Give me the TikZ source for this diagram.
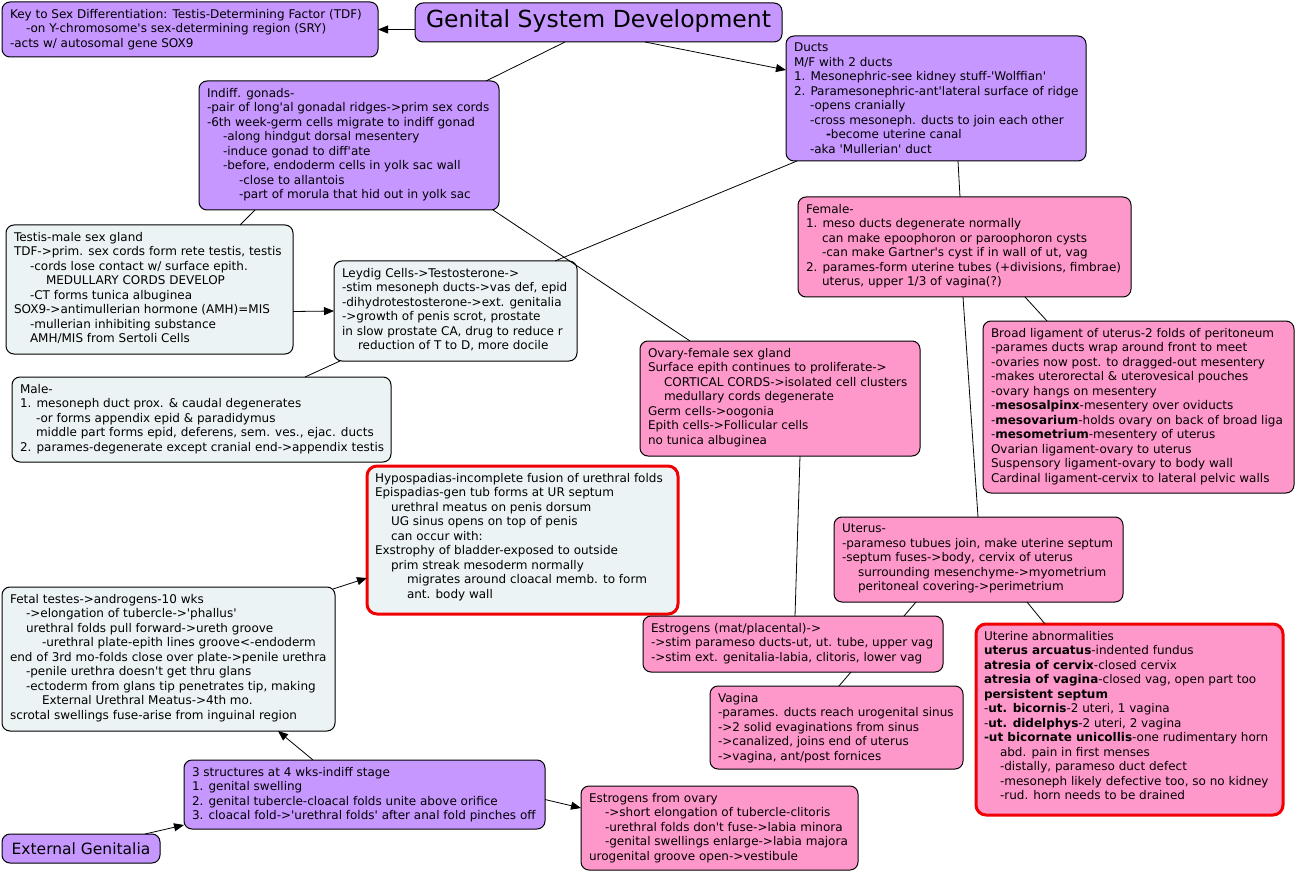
\documentclass[tikz,border=0pt]{standalone}
\usepackage{fontspec}
\newfontfamily\vf{DejaVu Sans}
\usetikzlibrary{arrows.meta}
\definecolor{cpur}{RGB}{198,151,255}
\definecolor{cpink}{RGB}{255,152,202}
\definecolor{cgrey}{RGB}{236,243,245}
\definecolor{cred}{RGB}{240,0,0}
\tikzset{
 boxbase/.style={draw=black, line width=1pt, rounded corners=8pt, inner sep=0pt, outer sep=0pt},
 pur/.style={boxbase, fill=cpur},
 pnk/.style={boxbase, fill=cpink},
 gry/.style={boxbase, fill=cgrey},
 redg/.style={boxbase, fill=cgrey, draw=cred, line width=3pt, rounded corners=10pt},
 redp/.style={boxbase, fill=cpink, draw=cred, line width=3pt, rounded corners=10pt},
 txt/.style={inner sep=0pt, outer sep=0pt, align=left, font=\vf\fontsize{12}{14.5}\selectfont},
 conn/.style={draw=black, line width=0.8pt},
 arr/.style={conn, -{Triangle[length=10pt,width=8pt]}},
}
\newcommand{\indA}{\hspace*{16pt}}
\newcommand{\indB}{\hspace*{32pt}}
\newcommand{\cbox}[7]{%
 \node[#2, minimum width=#5pt, minimum height=#6pt, anchor=north west] (#1) at (#3pt,-#4pt) {};
 \node[txt, anchor=north west] (#1t) at ([xshift=8pt,yshift=-7pt]#1.north west) {#7};}
\begin{document}
\begin{tikzpicture}
\useasboundingbox (0,0) rectangle (1297pt,-874pt);
% title
\node[pur, minimum width=367pt, minimum height=39pt, anchor=north west] (title) at (415pt,-3pt) {};
\node[txt, font=\vf\fontsize{23.5}{28}\selectfont] (titlet) at ([yshift=1pt]title.center) {Genital System Development};
% external genitalia
\node[pur, minimum width=158pt, minimum height=29pt, anchor=north west] (extgen) at (2pt,-834pt) {};
\node[txt, font=\vf\fontsize{15.5}{18}\selectfont] (extgent) at (extgen.center) {External Genitalia};

\cbox{key}{pur}{2}{2}{376}{55}{Key to Sex Differentiation: Testis-Determining Factor (TDF)\\
\indA-on Y-chromosome's sex-determining region (SRY)\\
-acts w/ autosomal gene SOX9}

\cbox{ducts}{pur}{786}{36}{300}{125}{Ducts\\
M/F with 2 ducts\\
1. Mesonephric-see kidney stuff-'Wolffian'\\
2. Paramesonephric-ant'lateral surface of ridge\\
\indA-opens cranially\\
\indA-cross mesoneph. ducts to join each other\\
\indB\textbf{-}become uterine canal\\
\indA-aka 'Mullerian' duct}

\cbox{indiff}{pur}{199}{81}{300}{129}{Indiff. gonads-\\
-pair of long'al gonadal ridges->prim sex cords\\
-6th week-germ cells migrate to indiff gonad\\
\indA-along hindgut dorsal mesentery\\
\indA-induce gonad to diff'ate\\
\indA-before, endoderm cells in yolk sac wall\\
\indB-close to allantois\\
\indB-part of morula that hid out in yolk sac}

\cbox{testis}{gry}{6}{225}{287}{129}{Testis-male sex gland\\
TDF->prim. sex cords form rete testis, testis\\
\indA-cords lose contact w/ surface epith.\\
\indB MEDULLARY CORDS DEVELOP\\
\indA-CT forms tunica albuginea\\
SOX9->antimullerian hormone (AMH)=MIS\\
\indA-mullerian inhibiting substance\\
\indA AMH/MIS from Sertoli Cells}

\cbox{leydig}{gry}{334}{261}{243}{100}{Leydig Cells->Testosterone->\\
-stim mesoneph ducts->vas def, epid\\
-dihydrotestosterone->ext. genitalia\\
->growth of penis scrot, prostate\\
in slow prostate CA, drug to reduce r\\
\indA reduction of T to D, more docile}

\cbox{male}{gry}{12}{377}{379}{85}{Male-\\
1. mesoneph duct prox. \& caudal degenerates\\
\indA-or forms appendix epid \& paradidymus\\
\indA middle part forms epid, deferens, sem. ves., ejac. ducts\\
2. parames-degenerate except cranial end->appendix testis}

\cbox{female}{pnk}{798}{197}{333}{100}{Female-\\
1. meso ducts degenerate normally\\
\indA can make epoophoron or paroophoron cysts\\
\indA-can make Gartner's cyst if in wall of ut, vag\\
2. parames-form uterine tubes (+divisions, fimbrae)\\
\indA uterus, upper 1/3 of vagina(?)}

\cbox{broad}{pnk}{983}{321}{311}{172}{Broad ligament of uterus-2 folds of peritoneum\\
-parames ducts wrap around front to meet\\
-ovaries now post. to dragged-out mesentery\\
-makes uterorectal \& uterovesical pouches\\
-ovary hangs on mesentery\\
-\textbf{mesosalpinx}-mesentery over oviducts\\
-\textbf{mesovarium}-holds ovary on back of broad liga\\
-\textbf{mesometrium}-mesentery of uterus\\
Ovarian ligament-ovary to uterus\\
Suspensory ligament-ovary to body wall\\
Cardinal ligament-cervix to lateral pelvic walls}

\cbox{ovary}{pnk}{640}{341}{280}{115}{Ovary-female sex gland\\
Surface epith continues to proliferate->\\
\indA CORTICAL CORDS->isolated cell clusters\\
\indA medullary cords degenerate\\
Germ cells->oogonia\\
Epith cells->Follicular cells\\
no tunica albuginea}

\cbox{hypo}{redg}{367}{466}{311}{148}{Hypospadias-incomplete fusion of urethral folds\\
Epispadias-gen tub forms at UR septum\\
\indA urethral meatus on penis dorsum\\
\indA UG sinus opens on top of penis\\
\indA can occur with:\\
Exstrophy of bladder-exposed to outside\\
\indA prim streak mesoderm normally\\
\indB migrates around cloacal memb. to form\\
\indB ant. body wall}

\cbox{uterus}{pnk}{834}{517}{289}{85}{Uterus-\\
-parameso tubues join, make uterine septum\\
-septum fuses->body, cervix of uterus\\
\indA surrounding mesenchyme->myometrium\\
\indA peritoneal covering->perimetrium}

\cbox{estrmat}{pnk}{643}{616}{300}{56}{Estrogens (mat/placental)->\\
->stim parameso ducts-ut, ut. tube, upper vag\\
->stim ext. genitalia-labia, clitoris, lower vag}

\cbox{vagina}{pnk}{710}{686}{253}{83}{Vagina\\
-parames. ducts reach urogenital sinus\\
->2 solid evaginations from sinus\\
->canalized, joins end of uterus\\
->vagina, ant/post fornices}

\cbox{utabn}{redp}{976}{624}{307}{191}{Uterine abnormalities\\
\textbf{uterus arcuatus}-indented fundus\\
\textbf{atresia of cervix}-closed cervix\\
\textbf{atresia of vagina}-closed vag, open part too\\
\textbf{persistent septum}\\
-\textbf{ut. bicornis}-2 uteri, 1 vagina\\
-\textbf{ut. didelphys}-2 uteri, 2 vagina\\
\textbf{-ut bicornate unicollis}-one rudimentary horn\\
\indA abd. pain in first menses\\
\indA-distally, parameso duct defect\\
\indA-mesoneph likely defective too, so no kidney\\
\indA-rud. horn needs to be drained}

\cbox{fetal}{gry}{2}{587}{333}{144}{Fetal testes->androgens-10 wks\\
\indA->elongation of tubercle->'phallus'\\
\indA urethral folds pull forward->ureth groove\\
\indB-urethral plate-epith lines groove<-endoderm\\
end of 3rd mo-folds close over plate->penile urethra\\
\indA-penile urethra doesn't get thru glans\\
\indA-ectoderm from glans tip penetrates tip, making\\
\indB External Urethral Meatus->4th mo.\\
scrotal swellings fuse-arise from inguinal region}

\cbox{three}{pur}{184}{760}{361}{69}{3 structures at 4 wks-indiff stage\\
1. genital swelling\\
2. genital tubercle-cloacal folds unite above orifice\\
3. cloacal fold->'urethral folds' after anal fold pinches off}

\cbox{estrov}{pnk}{581}{786}{277}{84}{Estrogens from ovary\\
\indA->short elongation of tubercle-clitoris\\
\indA-urethral folds don't fuse->labia minora\\
\indA-genital swellings enlarge->labia majora\\
urogenital groove open->vestibule}

% connectors
\draw[arr] ([yshift=-7pt]title.west) -- (key.east);
\draw[arr] ([xshift=230pt]title.south west) -- ([yshift=-34pt]ducts.north west);
\draw[conn] ([xshift=150pt]title.south west) -- ([xshift=287pt]indiff.north west);
\draw[conn] ([xshift=56pt]indiff.south west) -- ([xshift=234pt]testis.north west);
\draw[conn] ([xshift=-6pt]indiff.south east) -- ([xshift=50pt]ovary.north west);
\draw[conn] ([xshift=11pt]ducts.south west) -- ([xshift=-22pt]leydig.north east);
\draw[conn] ([xshift=172pt]ducts.south west) -- ([xshift=162pt]female.north west);
\draw[arr] ([yshift=-22pt]testis.east) -- (leydig.west);
\draw[conn] ([xshift=6pt]leydig.south west) -- ([xshift=293pt]male.north west);
\draw[conn] ([xshift=227pt]female.south west) -- ([xshift=64pt]broad.north west);
\draw[conn] ([xshift=165pt]female.south west) -- ([xshift=144pt]uterus.north west);
\draw[conn] ([xshift=160pt]ovary.south west) -- ([xshift=152pt]estrmat.north west);
\draw[conn] ([xshift=82pt]uterus.south west) -- ([xshift=261pt]estrmat.north west);
\draw[conn] ([xshift=193pt]uterus.south west) -- ([xshift=69pt]utabn.north west);
\draw[conn] ([xshift=208pt]estrmat.south west) -- ([xshift=129pt]vagina.north west);
\draw[arr] ([xshift=-2pt,yshift=-2pt]fetal.north east) -- ([yshift=36pt]hypo.south west);
\draw[arr] ([xshift=129pt]three.north west) -- ([xshift=276pt]fetal.south west);
\draw[arr] ([xshift=143pt]extgen.north west) -- ([yshift=4pt]three.south west);
\draw[arr] ([yshift=-5pt]three.east) -- ([yshift=-22pt]estrov.north west);
\end{tikzpicture}
\end{document}
